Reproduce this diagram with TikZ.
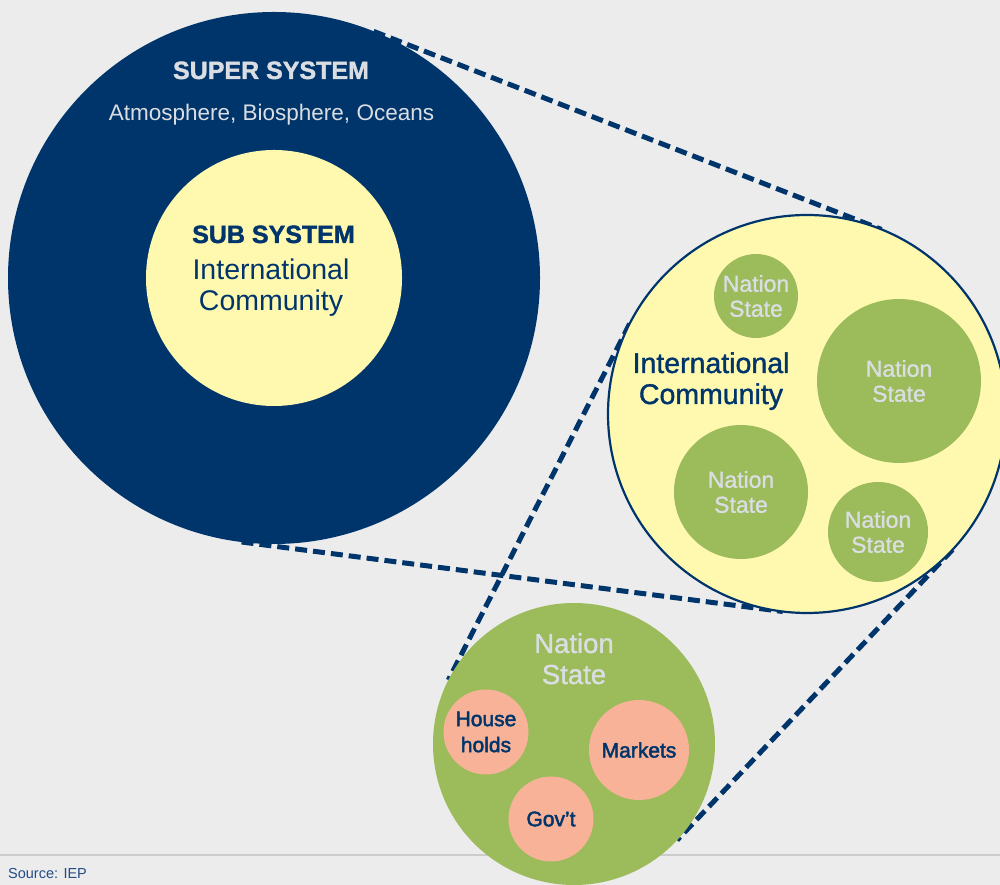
\documentclass[tikz,border=0pt]{standalone}
\usepackage{fontspec}
\setmainfont{Liberation Sans}
\newfontfamily\medfont[FakeBold=1.2]{Liberation Sans}
\newfontfamily\semifont[FakeBold=2.2]{Liberation Sans}
\newfontfamily\heavyfont[FakeBold=1.5]{Liberation Sans Bold}
\definecolor{navy}{RGB}{0,53,107}
\definecolor{bgcol}{RGB}{236,236,236}
\definecolor{paleyellow}{RGB}{255,249,176}
\definecolor{leaf}{RGB}{156,187,90}
\definecolor{salmon}{RGB}{248,178,152}
\definecolor{lighttext}{RGB}{218,222,226}
\definecolor{rulegray}{RGB}{204,204,204}
\definecolor{sourceblue}{RGB}{35,75,135}
\pgfdeclarelayer{back}
\pgfdeclarelayer{mid}
\pgfsetlayers{back,mid,main}
\begin{document}
\begin{tikzpicture}[x=1pt,y=1pt,
  disc/.style={circle, inner sep=0pt, outer sep=0pt},
  connector/.style={draw=navy, line width=5pt, dash pattern=on 12pt off 6pt},
  nstxt/.style={text=lighttext, align=center, font=\medfont\fontsize{23}{25}\selectfont},
  pinktxt/.style={text=navy, align=center, font=\semifont\fontsize{21}{26}\selectfont},
  label/.style={anchor=base, inner sep=0pt, align=center}]
\useasboundingbox (0,0) rectangle (1000,885);
\begin{pgfonlayer}{back}
  \fill[bgcol] (0,0) rectangle (1000,885);
  \coordinate (ruleL) at (0,30);
  \coordinate (ruleR) at (1000,30);
  \draw[rulegray, line width=1.5pt] (ruleL) -- (ruleR);
\end{pgfonlayer}

% super system
\node[disc, fill=navy, minimum size=532pt] (super) at (274,607) {};
\node[disc, fill=paleyellow, minimum size=256pt] (sub) at (274,607) {};
\node[label, text=lighttext, font=\heavyfont\fontsize{25}{30}\selectfont] (supert) at (271,806) {SUPER SYSTEM};
\node[label, text=lighttext, font=\fontsize{22.5}{27}\selectfont] (atmo) at (271.5,764) {Atmosphere, Biosphere, Oceans};
\node[label, text=navy, font=\heavyfont\fontsize{25}{30}\selectfont] (subt) at (273.5,642) {SUB SYSTEM};
\node[label, text=navy, font=\fontsize{28.5}{31}\selectfont] (subic) at (271,574) {International\\Community};

% international community
\node[disc, fill=paleyellow, draw=navy, line width=2.2pt, minimum size=398pt] (ic) at (807,471) {};
\node[label, text=navy, font=\medfont\fontsize{28.5}{31}\selectfont] (ict) at (711,481) {International\\Community};
\node[disc, fill=leaf, minimum size=84pt, nstxt] (ns1) at (756,589) {Nation\\State};
\node[disc, fill=leaf, minimum size=164pt, nstxt] (ns2) at (899,504) {Nation\\State};
\node[disc, fill=leaf, minimum size=134pt, nstxt] (ns3) at (741,393) {Nation\\State};
\node[disc, fill=leaf, minimum size=100pt, nstxt] (ns4) at (878,353) {Nation\\State};

% nation state
\node[disc, fill=leaf, minimum size=282pt] (ns) at (574,141) {};
\node[label, text=lighttext, font=\medfont\fontsize{27.5}{31}\selectfont] (nst) at (574,201) {Nation\\State};
\node[disc, fill=salmon, minimum size=85pt, pinktxt] (hh) at (486,153) {House\\holds};
\node[disc, fill=salmon, minimum size=100pt, pinktxt] (mk) at (639,135) {Markets};
\node[disc, fill=salmon, minimum size=85pt, pinktxt] (gv) at (551,66) {Gov’t};

% connectors (tangents)
\begin{pgfonlayer}{mid}
  \draw[connector] (super.68.7) -- (ic.68.7);
  \draw[connector] (super.-97.3) -- (ic.-97.3);
  \draw[connector] (ic.153.0) -- (ns.153.0);
  \draw[connector] (ic.-43.5) -- (ns.-43.5);
\end{pgfonlayer}

\node[anchor=base west, inner sep=0pt, text=sourceblue, font=\fontsize{14.5}{17}\selectfont] (src) at (8,6) {Source: IEP};
\end{tikzpicture}
\end{document}
